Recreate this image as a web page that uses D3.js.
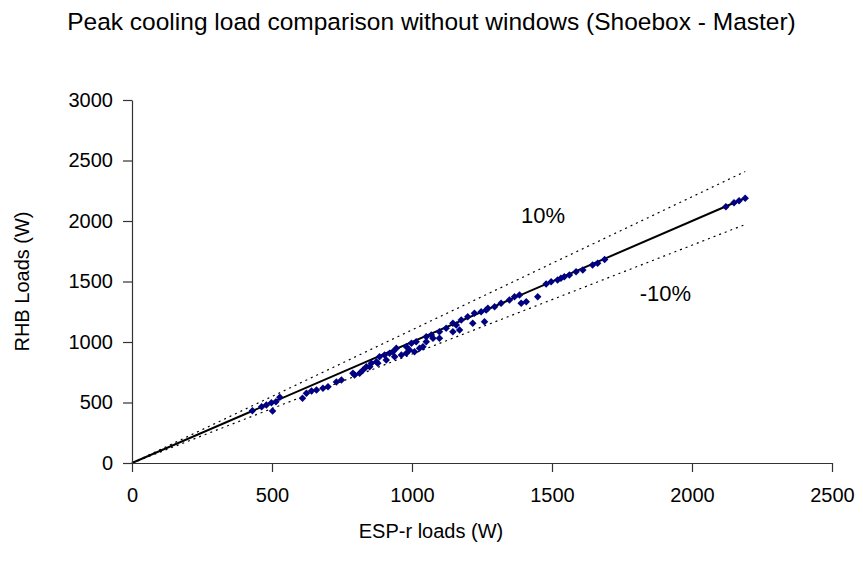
<!DOCTYPE html>
<html>
<head>
<meta charset="utf-8">
<script src="https://cdn.jsdelivr.net/npm/d3@7"></script>
<style>
  html, body { margin: 0; padding: 0; background: #fff; }
  svg { display: block; font-family: "Liberation Sans", Arial, sans-serif; }
</style>
</head>
<body>
<svg id="chart" width="863" height="569"></svg>
<script>
// ---- data ----
const chartTitle = "Peak cooling load comparison without windows (Shoebox - Master)";
const xTitle = "ESP-r loads (W)";
const yTitle = "RHB Loads (W)";
const xTicks = [0, 500, 1000, 1500, 2000, 2500];
const yTicks = [0, 500, 1000, 1500, 2000, 2500, 3000];
const espLoads = [430, 463, 480, 498, 502, 514, 528, 609, 623, 641, 659, 682, 700, 730, 748, 789, 795, 813, 825, 837, 849, 855, 873, 878, 884, 902, 908, 920, 932, 938, 944, 962, 980, 980, 991, 998, 1009, 1015, 1027, 1039, 1051, 1051, 1069, 1075, 1098, 1098, 1122, 1146, 1146, 1158, 1170, 1176, 1199, 1217, 1223, 1247, 1259, 1265, 1271, 1295, 1318, 1348, 1366, 1384, 1390, 1408, 1449, 1479, 1497, 1520, 1532, 1544, 1562, 1586, 1610, 1645, 1663, 1688, 2121, 2150, 2168, 2190];
const rhbLoads = [432, 465, 479, 498, 430, 507, 543, 535, 576, 595, 603, 617, 631, 669, 686, 741, 727, 741, 769, 796, 796, 824, 837, 824, 878, 893, 851, 907, 920, 878, 948, 893, 961, 907, 934, 989, 920, 1002, 948, 961, 1044, 1002, 1058, 1031, 1085, 1031, 1113, 1155, 1085, 1140, 1099, 1182, 1209, 1155, 1237, 1250, 1168, 1264, 1279, 1292, 1320, 1347, 1374, 1388, 1320, 1333, 1374, 1479, 1498, 1512, 1526, 1540, 1554, 1581, 1595, 1636, 1650, 1682, 2118, 2151, 2168, 2188];
const refLines = [
  { factor: 1.1, dashed: true },
  { factor: 1.0, dashed: false },
  { factor: 0.9, dashed: true }
];
const lineEnd = 2190;
const lineLabels = [ { text: "10%", x: 1468, y: 2035 }, { text: "-10%", x: 1905, y: 1385 } ];

// ---- layout ----
const svg = d3.select("#chart");
const W = 863, H = 569;
const margin = { left: 132, right: 31, top: 100, bottom: 106 };
const x = d3.scaleLinear().domain([0, 2500]).range([margin.left, W - margin.right]);
const y = d3.scaleLinear().domain([0, 3000]).range([H - margin.bottom, margin.top]);
const FONT = "'Liberation Sans', Arial, sans-serif";

// reference lines
refLines.forEach(r => {
  svg.append("line")
    .attr("x1", x(0)).attr("y1", y(0))
    .attr("x2", x(lineEnd)).attr("y2", y(lineEnd * r.factor))
    .attr("stroke", "#000")
    .attr("stroke-width", r.dashed ? 1.2 : 2)
    .attr("stroke-dasharray", r.dashed ? "2,4" : null);
});

// points
const pts = espLoads.map((v, i) => ({ x: v, y: rhbLoads[i] }));
const sym = d3.symbol().type(d3.symbolSquare).size(28);
svg.append("g").selectAll("path").data(pts).enter().append("path")
  .attr("d", sym)
  .attr("transform", d => `translate(${x(d.x)},${y(d.y)}) rotate(45)`)
  .attr("fill", "#000080");

// axes
const fmt = d3.format("d");
const xAxis = d3.axisBottom(x).tickValues(xTicks).tickFormat(fmt).tickSize(9).tickSizeOuter(0).tickPadding(16);
const yAxis = d3.axisLeft(y).tickValues(yTicks).tickFormat(fmt).tickSize(9).tickSizeOuter(0).tickPadding(10);
const gx = svg.append("g").attr("transform", `translate(0,${y(0)})`).call(xAxis);
const gy = svg.append("g").attr("transform", `translate(${x(0)},0)`).call(yAxis);
[gx, gy].forEach(g => {
  g.select(".domain").attr("stroke", "#333").attr("stroke-width", 1.2);
  g.selectAll(".tick line").attr("stroke", "#333").attr("stroke-width", 1.2);
  g.selectAll(".tick text").attr("font-size", 20).attr("fill", "#000").attr("font-family", FONT);
});

// line labels
lineLabels.forEach(l => {
  svg.append("text").attr("x", x(l.x)).attr("y", y(l.y))
    .attr("text-anchor", "middle").attr("dominant-baseline", "middle")
    .attr("font-size", 22).text(l.text);
});

svg.append("text").attr("x", W / 2).attr("y", 30)
  .attr("text-anchor", "middle").attr("font-size", 24.5).text(chartTitle);
svg.append("text").attr("x", 431).attr("y", 538)
  .attr("text-anchor", "middle").attr("font-size", 20).text(xTitle);
svg.append("text").attr("transform", `translate(29,${(y(0) + y(3000)) / 2}) rotate(-90)`)
  .attr("text-anchor", "middle").attr("font-size", 20).text(yTitle);
</script>
</body>
</html>
